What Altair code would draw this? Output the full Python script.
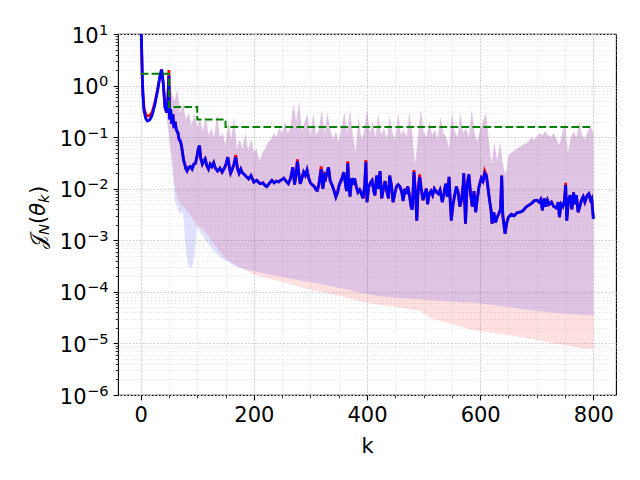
import altair as alt
import pandas as pd

FONT = "DejaVu Sans"

# ---------------- data ----------------
blue_pts = [
    (0, 40), (1, 12), (2, 4), (3, 1.4), (4, 0.7), (6, 0.32), (9, 0.23), (12, 0.206), (16, 0.215),
    (20, 0.26), (25, 0.42), (30, 0.8), (34, 1.5), (37, 2.05), (40, 1.1), (43, 0.38), (46, 0.3),
    (48, 0.5), (50, 1.55), (51, 0.22), (53, 0.35), (55, 0.18), (57, 0.28), (59, 0.15), (61, 0.2),
    (63, 0.14), (66, 0.12), (68, 0.09), (70, 0.085), (72, 0.07), (74, 0.05), (76, 0.035), (78, 0.03),
    (80, 0.024), (82, 0.022), (85, 0.026), (88, 0.027), (91, 0.024), (94, 0.03), (97, 0.031),
    (100, 0.045), (102, 0.06), (104, 0.069), (106, 0.04), (109, 0.03), (112, 0.035), (114, 0.038),
    (117, 0.028), (120, 0.024), (123, 0.03), (126, 0.027), (129, 0.032), (132, 0.025), (136, 0.022),
    (140, 0.025), (144, 0.021), (148, 0.025), (151, 0.03), (154, 0.041), (157, 0.025), (159, 0.02),
    (162, 0.024), (165, 0.03), (168, 0.041), (171, 0.025), (174, 0.02), (177, 0.024), (180, 0.02),
    (183, 0.019), (187, 0.017), (191, 0.0155), (195, 0.018), (200, 0.0134), (205, 0.0145),
    (211, 0.0125), (216, 0.013), (220, 0.0115), (223, 0.011), (227, 0.0125), (232, 0.0145),
    (236, 0.013), (240, 0.014), (244, 0.0135), (247, 0.0145), (250, 0.015), (253, 0.016),
    (257, 0.014), (261, 0.0125), (265, 0.016), (269, 0.026), (272, 0.012), (275, 0.02), (277, 0.034),
    (280, 0.018), (282, 0.0125), (285, 0.016), (288, 0.021), (291, 0.018), (294, 0.023), (297, 0.016),
    (300, 0.013), (303, 0.012), (307, 0.011), (310, 0.0095), (312, 0.0093), (315, 0.012), (319, 0.024),
    (322, 0.01), (325, 0.018), (327, 0.016), (330, 0.022), (332, 0.026), (335, 0.014), (338, 0.012),
    (342, 0.009), (345, 0.0069), (348, 0.0085), (351, 0.012), (355, 0.015), (359, 0.021), (362, 0.012),
    (364, 0.009), (366, 0.031), (368, 0.012), (370, 0.007), (373, 0.016), (376, 0.012), (378, 0.016),
    (381, 0.011), (384, 0.0085), (387, 0.0095), (390, 0.008), (393, 0.0065), (396, 0.012), (398, 0.033),
    (400, 0.0055), (403, 0.0107), (406, 0.013), (409, 0.0145), (412, 0.009), (414, 0.0074), (417, 0.018),
    (420, 0.01), (423, 0.022), (426, 0.0065), (429, 0.01), (432, 0.014), (435, 0.009), (438, 0.0065),
    (440, 0.018), (443, 0.012), (446, 0.0055), (449, 0.008), (452, 0.011), (455, 0.012), (458, 0.011),
    (461, 0.009), (464, 0.0058), (467, 0.01), (470, 0.008), (472, 0.011), (475, 0.0075), (478, 0.0045),
    (480, 0.0039), (483, 0.021), (486, 0.007), (488, 0.0024), (490, 0.008), (493, 0.017), (496, 0.0095),
    (499, 0.006), (502, 0.008), (505, 0.01), (507, 0.005), (510, 0.008), (513, 0.009), (516, 0.0075),
    (519, 0.01), (523, 0.0085), (526, 0.008), (529, 0.0095), (533, 0.0055), (536, 0.008), (539, 0.0125),
    (542, 0.007), (545, 0.017), (547, 0.006), (549, 0.0024), (552, 0.005), (555, 0.0075), (558, 0.011),
    (561, 0.0085), (564, 0.0045), (567, 0.006), (570, 0.012), (571, 0.02), (574, 0.0021), (577, 0.012),
    (580, 0.019), (583, 0.008), (586, 0.0045), (589, 0.009), (592, 0.0035), (595, 0.0065), (598, 0.011),
    (602, 0.016), (605, 0.014), (608, 0.02), (611, 0.018), (614, 0.01), (617, 0.0055), (619, 0.004),
    (621, 0.0021), (624, 0.0035), (627, 0.0022), (630, 0.0028), (633, 0.0033), (636, 0.004), (638, 0.018),
    (640, 0.003), (642, 0.002), (644, 0.00133), (647, 0.0022), (650, 0.0028), (655, 0.0032), (660, 0.003),
    (665, 0.0034), (670, 0.0035), (675, 0.0037), (681, 0.0044), (686, 0.0048), (691, 0.0052),
    (696, 0.0059), (700, 0.006), (704, 0.0055), (707, 0.0062), (710, 0.0038), (713, 0.0065),
    (716, 0.0045), (719, 0.006), (722, 0.005), (726, 0.0055), (730, 0.0045), (735, 0.0042),
    (738, 0.0055), (740, 0.0028), (743, 0.005), (746, 0.0045), (749, 0.006), (751, 0.0118),
    (753, 0.0024), (756, 0.006), (759, 0.0075), (762, 0.004), (765, 0.0085), (768, 0.005),
    (770, 0.0075), (773, 0.0035), (776, 0.0045), (779, 0.006), (782, 0.007), (785, 0.0055),
    (789, 0.0074), (792, 0.008), (795, 0.006), (797, 0.0065), (800, 0.0026),
]

# red curve: same as blue except where it peeks out
red_changes = [
    (6, 0.36), (9, 0.28), (12, 0.258), (16, 0.262), (20, 0.3), (25, 0.46), (30, 0.85),
    (50, 2.0), (51, 0.25), (168, 0.045), (277, 0.037), (319, 0.027), (366, 0.034),
    (398, 0.036), (483, 0.023), (493, 0.019), (608, 0.022), (751, 0.013),
]

band_k = list(range(45, 805, 5))
band_upper = [
    0.5, 0.9, 0.7, 0.5, 0.85, 0.3, 0.45, 0.22, 0.3, 0.17,
    0.28, 0.16, 0.22, 0.13, 0.25, 0.11, 0.15, 0.1, 0.28, 0.1,
    0.12, 0.07, 0.2, 0.09, 0.25, 0.06, 0.09, 0.06, 0.12, 0.055,
    0.09, 0.05, 0.06, 0.035, 0.05, 0.06, 0.08, 0.09, 0.12, 0.1,
    0.15, 0.12, 0.2, 0.12, 0.16, 0.45, 0.2, 0.5, 0.13, 0.2,
    0.28, 0.1, 0.3, 0.11, 0.14, 0.35, 0.12, 0.3, 0.14, 0.09,
    0.13, 0.08, 0.16, 0.3, 0.12, 0.35, 0.11, 0.05, 0.25, 0.09,
    0.13, 0.35, 0.12, 0.2, 0.1, 0.28, 0.11, 0.15, 0.09, 0.25,
    0.12, 0.09, 0.3, 0.11, 0.14, 0.1, 0.3, 0.12, 0.03, 0.1,
    0.35, 0.13, 0.1, 0.2, 0.11, 0.14, 0.09, 0.25, 0.12, 0.1,
    0.06, 0.3, 0.13, 0.1, 0.3, 0.12, 0.15, 0.1, 0.35, 0.12,
    0.08, 0.15, 0.2, 0.3, 0.1, 0.03, 0.08, 0.035, 0.08, 0.03,
    0.018, 0.045, 0.05, 0.055, 0.06, 0.065, 0.07, 0.075, 0.08, 0.1,
    0.09, 0.1, 0.12, 0.11, 0.13, 0.11, 0.1, 0.12, 0.09, 0.07,
    0.12, 0.2, 0.05, 0.1, 0.13, 0.1, 0.2, 0.11, 0.09, 0.13,
    0.16, 0.12,
]
red_lower = [
    0.3, 0.12, 0.04, 0.012, 0.0065, 0.005, 0.0045, 0.0039, 0.0033, 0.0028,
    0.0023, 0.0019, 0.00175, 0.0016, 0.0014, 0.0012, 0.001, 8.5e-4, 7.2e-4, 6.1e-4,
    5.2e-4, 4.5e-4, 4e-4, 3.7e-4, 3.45e-4, 3.2e-4, 3e-4, 2.8e-4, 2.6e-4, 2.45e-4,
    2.3e-4, 2.2e-4, 2.1e-4, 2e-4, 1.95e-4, 1.9e-4, 1.82e-4, 1.75e-4, 1.7e-4, 1.65e-4,
    1.6e-4, 1.55e-4, 1.5e-4, 1.45e-4, 1.4e-4, 1.35e-4, 1.3e-4, 1.25e-4, 1.2e-4, 1.17e-4,
    1.13e-4, 1.1e-4, 1.07e-4, 1.04e-4, 1.02e-4, 1e-4, 9.7e-5, 9.4e-5, 9.1e-5, 8.9e-5,
    8.6e-5, 8.4e-5, 8.2e-5, 8e-5, 7.7e-5, 7.4e-5, 7.1e-5, 6.9e-5, 6.6e-5, 6.4e-5,
    6.3e-5, 6.2e-5, 6e-5, 5.9e-5, 5.8e-5, 5.7e-5, 5.6e-5, 5.5e-5, 5.4e-5, 5.3e-5,
    5.2e-5, 5.1e-5, 5e-5, 4.9e-5, 4.8e-5, 4.7e-5, 4.6e-5, 4.5e-5, 4.4e-5, 4.35e-5,
    4.2e-5, 3.8e-5, 3.5e-5, 3.2e-5, 3e-5, 2.9e-5, 2.8e-5, 2.7e-5, 2.6e-5, 2.55e-5,
    2.45e-5, 2.4e-5, 2.3e-5, 2.2e-5, 2.15e-5, 2.05e-5, 2e-5, 1.9e-5, 1.85e-5, 1.8e-5,
    1.77e-5, 1.74e-5, 1.7e-5, 1.67e-5, 1.64e-5, 1.6e-5, 1.57e-5, 1.55e-5, 1.52e-5, 1.5e-5,
    1.48e-5, 1.45e-5, 1.42e-5, 1.39e-5, 1.36e-5, 1.33e-5, 1.3e-5, 1.27e-5, 1.24e-5, 1.21e-5,
    1.19e-5, 1.16e-5, 1.13e-5, 1.1e-5, 1.07e-5, 1.05e-5, 1.02e-5, 1e-5, 9.8e-6, 9.6e-6,
    9.4e-6, 9.2e-6, 9e-6, 8.8e-6, 8.6e-6, 8.4e-6, 8.3e-6, 8.1e-6, 8e-6, 7.9e-6,
    7.85e-6, 7.8e-6,
]
blue_lower = [
    0.3, 0.1, 0.03, 0.006, 0.0042, 0.0032, 0.0035, 0.0006, 0.0003, 0.00028,
    0.0005, 0.0019, 0.0014, 0.0012, 0.001, 8.5e-4, 7.2e-4, 6.2e-4, 5.4e-4, 4.8e-4,
    4.3e-4, 4e-4, 3.9e-4, 3.5e-4, 3.25e-4, 3.1e-4, 2.95e-4, 2.85e-4, 2.75e-4, 2.65e-4,
    2.6e-4, 2.5e-4, 2.45e-4, 2.4e-4, 2.32e-4, 2.25e-4, 2.2e-4, 2.15e-4, 2.1e-4, 2.05e-4,
    2e-4, 1.95e-4, 1.9e-4, 1.85e-4, 1.8e-4, 1.76e-4, 1.72e-4, 1.68e-4, 1.63e-4, 1.6e-4,
    1.57e-4, 1.54e-4, 1.5e-4, 1.47e-4, 1.44e-4, 1.4e-4, 1.37e-4, 1.33e-4, 1.3e-4, 1.27e-4,
    1.24e-4, 1.2e-4, 1.17e-4, 1.14e-4, 1.1e-4, 1.07e-4, 1.04e-4, 1.01e-4, 9.8e-5, 9.5e-5,
    9.3e-5, 9.1e-5, 8.9e-5, 8.7e-5, 8.5e-5, 8.3e-5, 8.2e-5, 8.1e-5, 8e-5, 7.9e-5,
    7.8e-5, 7.7e-5, 7.6e-5, 7.5e-5, 7.45e-5, 7.4e-5, 7.35e-5, 7.3e-5, 7.25e-5, 7.2e-5,
    7.1e-5, 7e-5, 6.95e-5, 6.9e-5, 6.85e-5, 6.8e-5, 6.7e-5, 6.65e-5, 6.6e-5, 6.55e-5,
    6.5e-5, 6.45e-5, 6.4e-5, 6.35e-5, 6.3e-5, 6.27e-5, 6.25e-5, 6.22e-5, 6.2e-5, 6.15e-5,
    6.1e-5, 6e-5, 5.9e-5, 5.8e-5, 5.7e-5, 5.6e-5, 5.5e-5, 5.4e-5, 5.3e-5, 5.25e-5,
    5.2e-5, 5.1e-5, 5e-5, 4.9e-5, 4.8e-5, 4.7e-5, 4.6e-5, 4.5e-5, 4.4e-5, 4.35e-5,
    4.3e-5, 4.25e-5, 4.2e-5, 4.15e-5, 4.1e-5, 4.05e-5, 4e-5, 3.95e-5, 3.9e-5, 3.85e-5,
    3.8e-5, 3.77e-5, 3.73e-5, 3.7e-5, 3.66e-5, 3.63e-5, 3.6e-5, 3.57e-5, 3.54e-5, 3.52e-5,
    3.5e-5, 3.5e-5,
]
assert len(band_k) == len(band_upper) == len(red_lower) == len(blue_lower)

step_k = [0, 50, 100, 150, 800]
step_v = [1.7, 0.385, 0.22, 0.158, 0.158]

x_major = [0, 200, 400, 600, 800]
x_minor = list(range(0, 801, 50))
y_dec = [1e-6, 1e-5, 1e-4, 1e-3, 1e-2, 1e-1, 1.0, 10.0]
y_exp = ["\u22126", "\u22125", "\u22124", "\u22123", "\u22122", "\u22121", "0", "1"]
y_minor = [m * 10.0 ** e for e in range(-6, 1) for m in range(2, 10)]

# ---------------- tables ----------------
blue_df = pd.DataFrame(blue_pts, columns=["k", "v"])
red_map = dict(blue_pts)
red_map.update(dict(red_changes))
red_df = pd.DataFrame(sorted(red_map.items()), columns=["k", "v"])
band_df = pd.DataFrame({"k": band_k, "hi": band_upper, "rlo": red_lower, "blo": blue_lower})
step_df = pd.DataFrame({"k": step_k, "v": step_v})
lab_df = pd.DataFrame({"v": y_dec, "e": y_exp})
lab_neg = lab_df[lab_df["v"] < 0.5]
lab_pos = lab_df[lab_df["v"] > 0.5]
one = pd.DataFrame({"k": [0], "v": [1.0]})

W, H = 498, 361
xs = alt.Scale(domain=[-40, 840], nice=False, zero=False)
ys = alt.Scale(type="log", domain=[1e-6, 10], nice=False)

# minor ticks + minor grid (invisible mark carrying the axes)
minor = alt.Chart(one).mark_point(opacity=0).encode(
    x=alt.X("k:Q", scale=xs, axis=alt.Axis(
        orient="bottom", values=x_minor, labels=False, title=None, domain=False,
        tickSize=2.8, tickWidth=0.8, tickColor="black",
        grid=True, gridColor="#e6e6e6", gridWidth=0.8, gridDash=[2, 2])),
    y=alt.Y("v:Q", scale=ys, axis=alt.Axis(
        orient="left", values=y_minor, labels=False, title=None, domain=False,
        tickSize=2.8, tickWidth=0.8, tickColor="black",
        grid=True, gridColor="#e6e6e6", gridWidth=0.8, gridDash=[2, 2])),
)

red_band = alt.Chart(band_df).mark_area(fill="#ff0000", fillOpacity=0.12, clip=True).encode(
    x=alt.X("k:Q", scale=xs, axis=alt.Axis(
        orient="bottom", values=x_major, format="d", domain=False,
        tickSize=4.9, tickWidth=1.1, tickColor="black",
        labelFont=FONT, labelFontSize=21, labelColor="black", labelPadding=5,
        grid=True, gridColor="#d2d2d2", gridWidth=1.1, gridDash=[2, 1.5],
        title="k", titleFont=FONT, titleFontSize=21, titleFontWeight="normal",
        titleColor="black", titleBaseline="alphabetic", titleY=57)),
    y=alt.Y("rlo:Q", scale=ys, axis=alt.Axis(
        orient="left", values=y_dec, labels=False, title=None, domain=False,
        tickSize=4.9, tickWidth=1.1, tickColor="black",
        grid=True, gridColor="#d2d2d2", gridWidth=1.1, gridDash=[2, 1.5])),
    y2="hi:Q",
)

blue_band = alt.Chart(band_df).mark_area(fill="#0000ff", fillOpacity=0.12, clip=True).encode(
    x=alt.X("k:Q", scale=xs, axis=None),
    y=alt.Y("blo:Q", scale=ys, axis=None),
    y2="hi:Q",
)

red_line = alt.Chart(red_df).mark_line(color="#ff0000", strokeWidth=2.8, clip=True).encode(
    x=alt.X("k:Q", scale=xs, axis=None),
    y=alt.Y("v:Q", scale=ys, axis=None),
)
blue_line = alt.Chart(blue_df).mark_line(color="#0000ff", strokeWidth=2.8, clip=True).encode(
    x=alt.X("k:Q", scale=xs, axis=None),
    y=alt.Y("v:Q", scale=ys, axis=None),
)
step_line = alt.Chart(step_df).mark_line(
    color="#008000", strokeWidth=2.0, strokeDash=[7.7, 3.3], interpolate="step-after", clip=True
).encode(
    x=alt.X("k:Q", scale=xs, axis=None),
    y=alt.Y("v:Q", scale=ys, axis=None),
)

# y tick labels 10^n (base and exponent as separate texts, placed by the y scale)
def ten(df, xr):
    return alt.Chart(df).mark_text(
        text="10", align="right", baseline="alphabetic", dy=8.6,
        font=FONT, fontSize=21, color="black").encode(
        x=alt.value(xr), y=alt.Y("v:Q", scale=ys, axis=None))

def expo(df, xr):
    return alt.Chart(df).mark_text(
        align="left", baseline="alphabetic", dy=0.5,
        font=FONT, fontSize=14.7, color="black").encode(
        x=alt.value(xr), y=alt.Y("v:Q", scale=ys, axis=None), text="e:N")

# y title  J_N(theta_k)
def piece(txt, xr, yr, size, style="normal"):
    return alt.Chart(one).mark_text(
        text=txt, angle=270, align="left", baseline="alphabetic",
        font=FONT, fontSize=size, fontStyle=style, color="black").encode(
        x=alt.value(xr), y=alt.value(yr))

layers = [
    minor, red_band, blue_band, red_line, blue_line, step_line,
    ten(lab_neg, -31.5), expo(lab_neg, -31), ten(lab_pos, -19.5), expo(lab_pos, -19),
    piece("\U0001D4A5", -73, 215, 21),
    piece("N", -69, 201, 14.7, "italic"),
    piece("(", -73, 190, 21),
    piece("\u03b8", -73, 181.8, 21, "italic"),
    piece("k", -69, 168.9, 14.7, "italic"),
    piece(")", -73, 160, 21),
]

chart = alt.layer(*layers).resolve_axis(x="independent", y="independent").properties(
    width=W, height=H,
    autosize=alt.AutoSizeParams(type="none"),
    padding={"left": 110, "top": 26, "right": 14, "bottom": 70},
    background="white",
).configure_view(stroke="black", strokeWidth=1.1)

chart.save("out.html", embed_options={"renderer": "svg", "actions": False})
